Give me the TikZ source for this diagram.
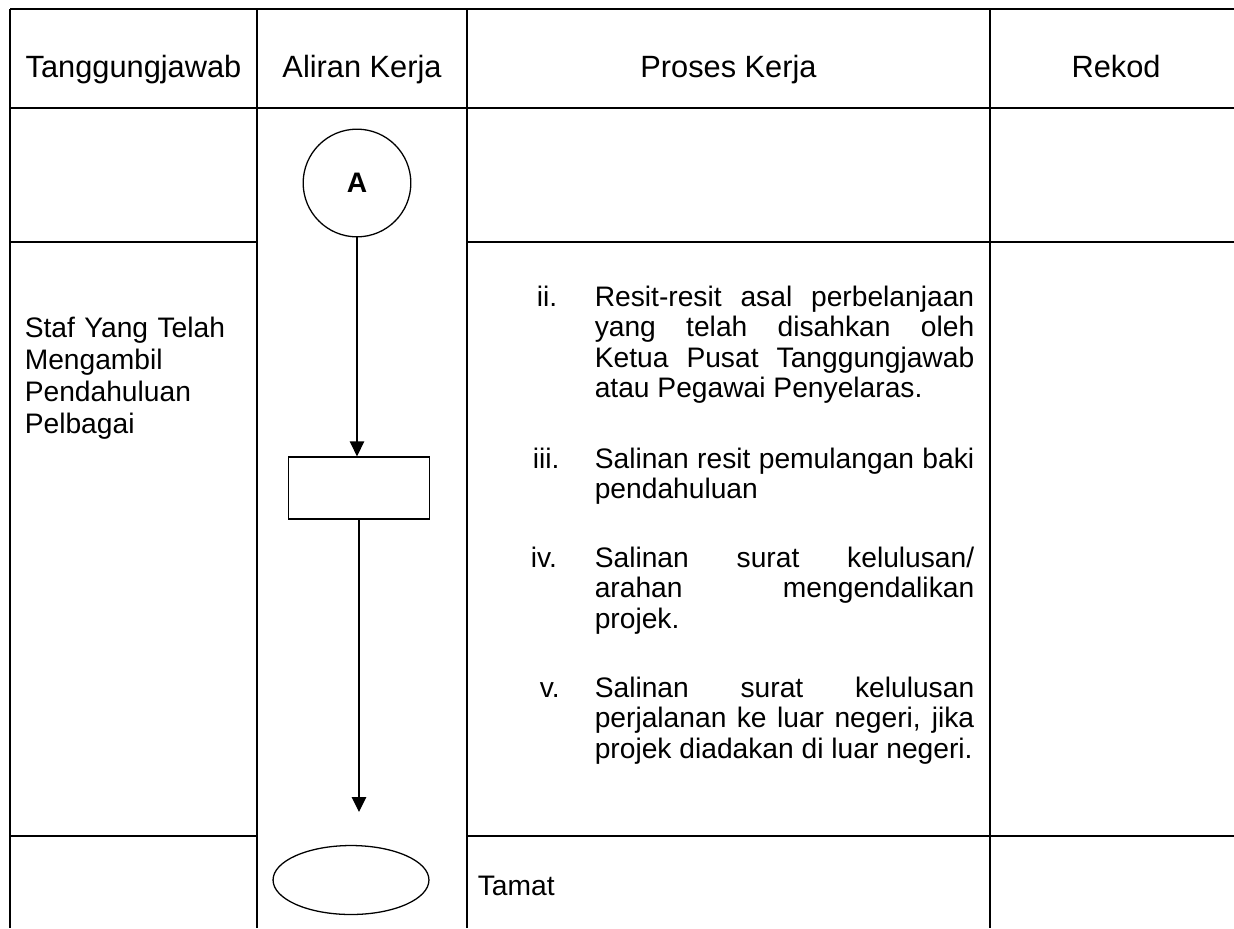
\documentclass[tikz,border=0pt]{standalone}
\usepackage{fontspec}
\setmainfont{Liberation Sans}
\usetikzlibrary{arrows.meta,shapes.geometric}

\begin{document}
\tolerance=10000 \hyphenpenalty=10000
\begin{tikzpicture}[x=0.39pt,y=-0.39pt,line width=0.6pt,
    head/.style={font=\fontsize{12}{14}\selectfont,inner sep=0pt},
    body/.style={font=\fontsize{11}{11.9}\selectfont,inner sep=0pt},
    item/.style={body,text width=148pt,align=justify},
    flow/.style={-{Triangle[length=5.8pt,width=5.6pt]},line width=0.5pt}]
    \useasboundingbox (0,0) rectangle (1234,928);
    % table frame
    \draw (10,9) -- (1234,9);
    \draw (10,108) -- (1234,108);
    \draw (10,242) -- (257,242);
    \draw (467,242) -- (1234,242);
    \draw (10,836) -- (257,836);
    \draw (467,836) -- (1234,836);
    \foreach \x in {10,257,467,990}
      \draw (\x,9) -- (\x,928);
    % headers
    \node[head,anchor=base] (hResp) at (133.5,77) {Tanggungjawab};
    \node[head,anchor=base] (hFlow) at (362,77) {Aliran Kerja};
    \node[head,anchor=base] (hProc) at (728.5,77) {Proses Kerja};
    \node[head,anchor=base] (hRec) at (1116,77) {Rekod};
    % responsibility
    \node[body,font=\fontsize{11}{12.6}\selectfont,text width=90pt,align=left,
      anchor=base west] (staf) at (24,337)
      {Staf Yang Telah\\ Mengambil\\ Pendahuluan\\ Pelbagai};
    % flow
    \node[draw,circle,line width=0.5pt,minimum size=42pt,inner sep=0pt,
      font=\fontsize{11}{12}\selectfont\bfseries] (A) at (357,183) {A};
    \node[draw,rectangle,line width=0.5pt,minimum width=55pt,minimum height=24.2pt]
      (box) at (359,488) {};
    \coordinate (tip) at (359,812);
    \node[draw,ellipse,line width=0.5pt,minimum width=60.8pt,minimum height=26.9pt,
      inner sep=0pt] (stop) at (351,880) {};
    \draw[flow] (A) -- (A |- box.north);
    \draw[flow] (box.south) -- (tip);
    % process
    \node[body,anchor=base west] (nii) at (536,306) {ii.};
    \node[item,anchor=base west] (ii) at (594,306)
      {Resit-resit asal perbelanjaan\linebreak yang telah disahkan oleh\linebreak
       Ketua Pusat Tanggungjawab\linebreak atau Pegawai Penyelaras.};
    \node[body,anchor=base west] (niii) at (532,468) {iii.};
    \node[item,anchor=base west] (iii) at (594,468)
      {Salinan resit pemulangan baki\linebreak pendahuluan};
    \node[body,anchor=base west] (niv) at (530,567) {iv.};
    \node[item,anchor=base west] (iv) at (594,567)
      {Salinan surat kelulusan/\linebreak arahan mengendalikan\linebreak projek.};
    \node[body,anchor=base west] (nv) at (539,697) {v.};
    \node[item,anchor=base west] (v) at (594,697)
      {Salinan surat kelulusan\linebreak perjalanan ke luar negeri, jika\linebreak
       projek diadakan di luar negeri.};
    \node[body,anchor=base west] (tamat) at (477,895) {Tamat};
\end{tikzpicture}
\end{document}
